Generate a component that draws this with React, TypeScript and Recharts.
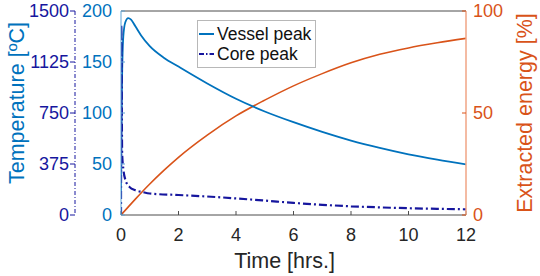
import React from 'react';
import { LineChart, Line, XAxis, YAxis, Legend } from 'recharts';

// time in hours
const vesselTime = [0, 0.03, 0.08, 0.15, 0.25, 0.35, 0.5, 0.7, 1, 1.5, 2, 3, 4, 5, 6, 7, 8, 9, 10, 11, 12];
const vesselTemp = [20, 120, 175, 189, 193, 191.5, 185, 176, 165.5, 154, 145.5, 129, 114, 101.5, 91, 81.5, 73, 65.8, 59.5, 54.3, 49.7];

const coreTime = [0, 0.01, 0.04, 0.08, 0.15, 0.3, 0.5, 0.75, 1, 2, 3, 4, 5, 6, 7, 8, 9, 10, 11, 12];
const coreTemp = [0, 1395, 450, 340, 260, 205, 182, 169, 158, 147, 136, 122, 106, 89, 75, 64, 56, 50, 45.5, 42];

const energyTime = [0, 0.5, 1, 1.5, 2, 3, 4, 5, 6, 7, 8, 9, 10, 11, 12];
const energyPct = [0, 7.8, 15.2, 22, 28.3, 39.2, 48.6, 56.3, 63.3, 69.3, 74.6, 78.8, 81.9, 84.4, 86.6];

const timeTicks = [0, 2, 4, 6, 8, 10, 12];
const vesselTicks = [0, 50, 100, 150, 200];
const coreTicks = [0, 375, 750, 1125, 1500];
const energyTicks = [0, 50, 100];
const legendOrder = ['Vessel peak', 'Core peak'];

const BLUE = '#0072BD';
const ORANGE = '#D95319';
const NAVY = '#16169E';
const FONT = '"Liberation Sans", Arial, sans-serif';

const vesselData = vesselTime.map((t, i) => ({ t, v: vesselTemp[i] }));
const coreData = coreTime.map((t, i) => ({ t, c: coreTemp[i] }));
const energyData = energyTime.map((t, i) => ({ t, e: energyPct[i] }));

// rotated axis title, placed relative to the axis box
const axisTitle = (text: string, color: string, dx: number, dy: number) => (props: any) => {
    const vb = props.viewBox || {};
    const cx = vb.x + dx;
    const cy = vb.y + vb.height / 2 + dy;
    return (
        <text
            x={cx}
            y={cy}
            fill={color}
            fontSize={21.5}
            textAnchor="middle"
            dominantBaseline="central"
            transform={`rotate(-90 ${cx} ${cy})`}
        >
            {text}
        </text>
    );
};

const LegendBox = (props: any) => {
    const items = (props.payload || [])
        .filter((p: any) => legendOrder.includes(p.value))
        .sort((a: any, b: any) => legendOrder.indexOf(a.value) - legendOrder.indexOf(b.value));
    return (
        <div
            style={{
                border: '1px solid #b8b8b8',
                background: '#fff',
                padding: '3px 2px 3px 1px',
                fontFamily: FONT,
                fontSize: 17.5,
                color: '#111',
                lineHeight: '20px',
                whiteSpace: 'nowrap',
            }}
        >
            {items.map((it: any) => (
                <div key={it.value} style={{ display: 'flex', alignItems: 'center' }}>
                    <svg width={15} height={4} style={{ marginRight: 3 }}>
                        <line
                            x1={0}
                            y1={2}
                            x2={15}
                            y2={2}
                            stroke={it.color}
                            strokeWidth={2}
                            strokeDasharray={it.value === 'Core peak' ? '5 2 1.5 2' : undefined}
                        />
                    </svg>
                    <span>{it.value}</span>
                </div>
            ))}
        </div>
    );
};

export default function App() {
    return (
        <div style={{ position: 'absolute', left: 0, top: 0, width: 540, height: 276, fontFamily: FONT, background: '#fff' }}>
            <LineChart width={540} height={276} margin={{ top: 0, right: 0, bottom: 0, left: 0 }}>
                <XAxis
                    xAxisId="bottom"
                    dataKey="t"
                    type="number"
                    domain={[0, 12]}
                    ticks={timeTicks}
                    allowDataOverflow
                    height={61}
                    stroke="#4d4d4d"
                    tickSize={-4}
                    tickMargin={17}
                    tick={{ fill: '#262626', fontSize: 18 }}
                    label={{ value: 'Time [hrs.]', position: 'insideBottom', offset: 8, dx: -9, fill: '#262626', fontSize: 21.5 }}
                />
                <XAxis
                    xAxisId="top"
                    orientation="top"
                    dataKey="t"
                    type="number"
                    domain={[0, 12]}
                    ticks={timeTicks}
                    height={11}
                    stroke="#4d4d4d"
                    tickSize={-4}
                    tickFormatter={() => ''}
                />
                <YAxis
                    yAxisId="inner"
                    width={46}
                    type="number"
                    domain={[0, 200]}
                    ticks={vesselTicks}
                    allowDataOverflow
                    axisLine={{ stroke: '#5CA3D6' }}
                    tickLine={{ stroke: '#5CA3D6' }}
                    tickSize={-4}
                    tickMargin={13}
                    tick={{ fill: BLUE, fontSize: 18 }}
                />
                <YAxis
                    yAxisId="outer"
                    width={75}
                    type="number"
                    domain={[0, 1500]}
                    ticks={coreTicks}
                    allowDataOverflow
                    axisLine={{ stroke: NAVY, strokeDasharray: '4 2 1 2' }}
                    tickLine={{ stroke: NAVY }}
                    tickSize={5}
                    tickMargin={1}
                    tick={{ fill: NAVY, fontSize: 18 }}
                    label={{ content: axisTitle('Temperature [ºC]', BLUE, 16.5, -10) }}
                />
                <YAxis
                    yAxisId="right"
                    orientation="right"
                    width={74}
                    type="number"
                    domain={[0, 100]}
                    ticks={energyTicks}
                    allowDataOverflow
                    axisLine={{ stroke: '#F0A585', strokeWidth: 1.5 }}
                    tickLine={{ stroke: ORANGE }}
                    tickSize={-4}
                    tickMargin={11}
                    tick={{ fill: ORANGE, fontSize: 18 }}
                    label={{ content: axisTitle('Extracted energy [%]', ORANGE, 59, 0) }}
                />
                <Legend
                    layout="vertical"
                    align="center"
                    verticalAlign="middle"
                    content={<LegendBox />}
                    wrapperStyle={{ position: 'absolute', left: 197, top: 20, width: 119 }}
                />
                <Line
                    xAxisId="bottom"
                    yAxisId="right"
                    data={energyData}
                    dataKey="e"
                    name="Extracted energy"
                    type="monotone"
                    stroke={ORANGE}
                    strokeWidth={1.6}
                    dot={false}
                    legendType="none"
                    isAnimationActive={false}
                />
                <Line
                    xAxisId="bottom"
                    yAxisId="inner"
                    data={vesselData}
                    dataKey="v"
                    name="Vessel peak"
                    type="monotone"
                    stroke={BLUE}
                    strokeWidth={1.8}
                    dot={false}
                    isAnimationActive={false}
                />
                <Line
                    xAxisId="bottom"
                    yAxisId="outer"
                    data={coreData}
                    dataKey="c"
                    name="Core peak"
                    type="monotone"
                    stroke={NAVY}
                    strokeWidth={2.2}
                    strokeDasharray="8 3 2 3"
                    dot={false}
                    isAnimationActive={false}
                />
            </LineChart>
        </div>
    );
}
